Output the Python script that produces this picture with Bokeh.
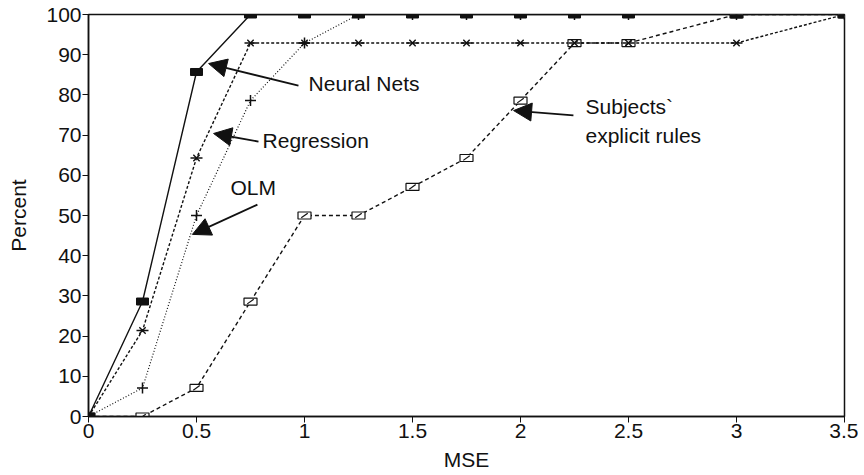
from bokeh.plotting import figure
from bokeh.models import Arrow, NormalHead, FixedTicker, Label
from bokeh.embed import file_html
from bokeh.resources import INLINE
import math

mse = [0, 0.25, 0.5, 0.75, 1, 1.25, 1.5, 1.75, 2, 2.25, 2.5, 3, 3.5]
neural_nets = [0, 28.6, 85.7, 100, 100, 100, 100, 100, 100, 100, 100, 100, 100]
regression = [0, 21.4, 64.3, 92.9, 92.9, 92.9, 92.9, 92.9, 92.9, 92.9, 92.9, 92.9, 100]
olm = [0, 7.1, 50, 78.6, 92.9, 100, 100, 100, 100, 100, 100, 100, 100]
subjects = [0, 0, 7.1, 28.6, 50, 50, 57.1, 64.3, 78.6, 92.9, 92.9, 100, 100]

x_ticks = [0, 0.5, 1, 1.5, 2, 2.5, 3, 3.5]
x_tick_labels = ["0", "0.5", "1", "1.5", "2", "2.5", "3", "3.5"]
y_ticks = [0, 10, 20, 30, 40, 50, 60, 70, 80, 90, 100]

FONT = "Liberation Sans"
INK = "#111111"

p = figure(width=858, height=473, output_backend="svg", toolbar_location=None,
           x_range=(0, 3.5), y_range=(0, 100),
           min_border_left=88, min_border_right=14, min_border_top=14, min_border_bottom=57)
p.background_fill_color = "white"
p.border_fill_color = "white"
p.outline_line_color = INK
p.outline_line_width = 1.5
p.grid.visible = False

p.xaxis.ticker = FixedTicker(ticks=x_ticks)
p.xaxis.major_label_overrides = {t: l for t, l in zip(x_ticks, x_tick_labels)}
p.yaxis.ticker = FixedTicker(ticks=y_ticks)
for ax in (p.xaxis, p.yaxis):
    ax.axis_line_color = INK
    ax.axis_line_width = 1.5
    ax.major_tick_line_color = INK
    ax.major_tick_out = 6
    ax.major_tick_in = 0
    ax.minor_tick_line_color = None
    ax.major_label_text_font = FONT
    ax.major_label_text_font_size = "21px"
    ax.major_label_text_color = INK
    ax.axis_label_text_font = FONT
    ax.axis_label_text_font_size = "21px"
    ax.axis_label_text_font_style = "normal"
    ax.axis_label_text_color = INK
p.xaxis.axis_label = "MSE"
p.yaxis.axis_label = "Percent"
p.xaxis.major_label_standoff = 1
p.yaxis.major_label_standoff = 1
p.xaxis.axis_label_standoff = 7
p.yaxis.axis_label_standoff = 13

# lines
p.line(mse, subjects, line_color=INK, line_width=1.4, line_dash="4 3")
p.line(mse, olm, line_color=INK, line_width=1.2, line_dash="1 2")
p.line(mse, regression, line_color=INK, line_width=1.4, line_dash="3 2")
p.line(mse, neural_nets, line_color=INK, line_width=1.4)

# markers
p.rect(mse, subjects, width=13, height=7, width_units="screen", height_units="screen",
       fill_color="white", line_color=INK, line_width=1.2)
p.scatter(mse, subjects, marker="dash", size=8, angle=math.pi / 5, line_color=INK, line_width=1.2)
p.scatter(mse, olm, marker="cross", size=11, line_color=INK, line_width=1.5)
p.scatter(mse, regression, marker="x", size=9, line_color=INK, line_width=1.4)
p.scatter(mse, regression, marker="dash", size=12, line_color=INK, line_width=1.4)
p.rect(mse, neural_nets, width=12, height=7, width_units="screen", height_units="screen",
       fill_color=INK, line_color=INK, line_width=1)

# annotations
def arrow(x0, y0, x1, y1):
    p.add_layout(Arrow(end=NormalHead(size=18, fill_color=INK, line_color=INK),
                       x_start=x0, y_start=y0, x_end=x1, y_end=y1,
                       line_color=INK, line_width=1.8))

def label(x, y, t):
    p.add_layout(Label(x=x, y=y, text=t, text_font=FONT, text_font_size="21px",
                       text_color=INK, text_baseline="middle", text_align="left"))

arrow(0.972, 82.3, 0.556, 87.8)
label(1.019, 82.8, "Neural Nets")
arrow(0.787, 68.4, 0.579, 70.4)
label(0.806, 68.7, "Regression")
arrow(0.782, 52.7, 0.481, 45.3)
label(0.657, 57.0, "OLM")
arrow(2.245, 74.9, 1.968, 76.1)
label(2.301, 77.1, "Subjects`")
label(2.301, 70.0, "explicit rules")

open("out.html", "w").write(file_html(p, INLINE))
